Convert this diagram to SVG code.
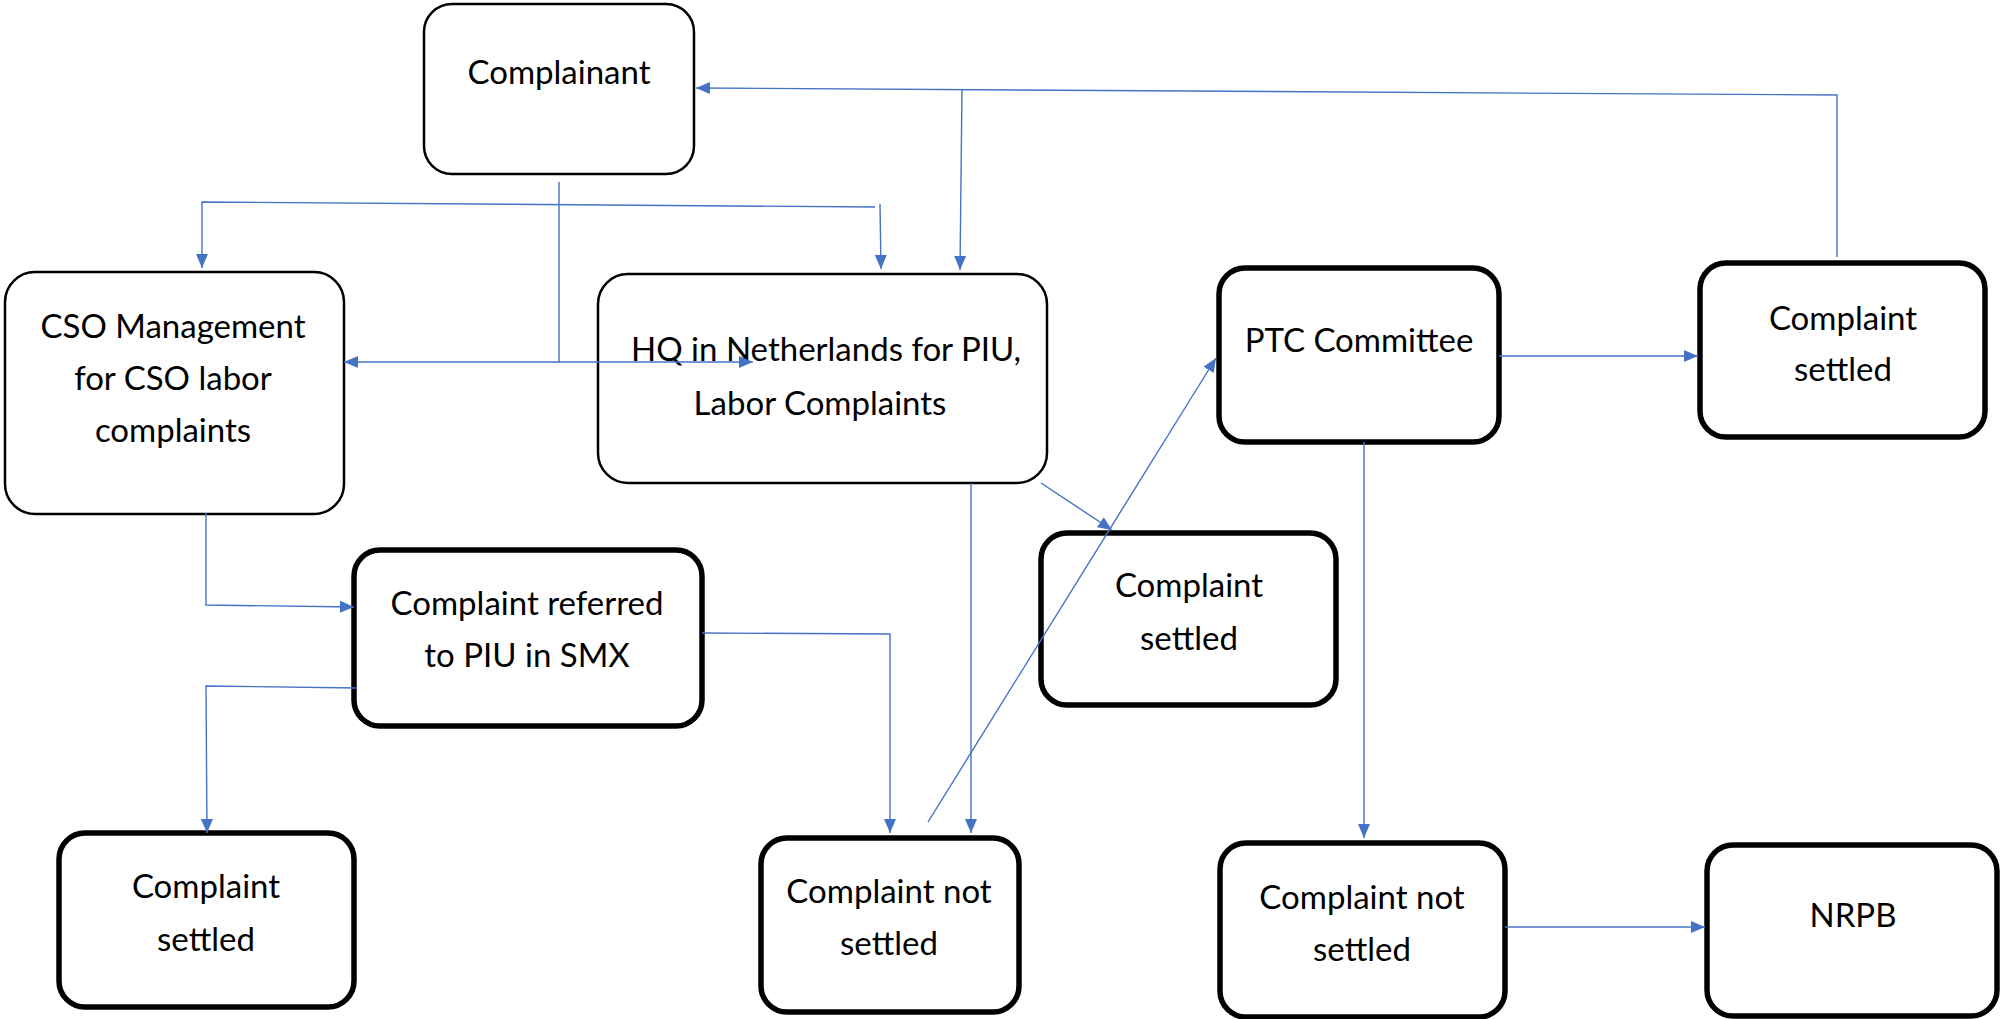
<svg xmlns="http://www.w3.org/2000/svg" width="2000" height="1019" viewBox="0 0 2000 1019">
<style>
.box{fill:#fff;stroke:#000}
.thin{stroke-width:2.5}
.thick{stroke-width:5.5}
.t{font-family:Lato,"Liberation Sans",sans-serif;font-size:33px;fill:#000;text-anchor:middle}
.c{fill:none;stroke:#4472C4;stroke-width:1.4}
</style>
<defs>
<marker id="a" markerUnits="userSpaceOnUse" markerWidth="16" markerHeight="14" refX="14" refY="6" orient="auto-start-reverse" viewBox="0 0 16 12">
<path d="M0,0 L14,6 L0,12 Z" fill="#4472C4"/>
</marker>
</defs>
<rect width="2000" height="1019" fill="#fff"/>
<g id="complainant">
<rect class="box thin" x="424" y="4" width="270" height="170" rx="28"/>
<text class="t" x="559" y="84">Complainant</text>
</g>
<g id="cso">
<rect class="box thin" x="5" y="272" width="339" height="242" rx="30"/>
<text class="t" x="173" y="338">CSO Management</text>
<text class="t" x="173" y="390">for CSO labor</text>
<text class="t" x="173" y="442">complaints</text>
</g>
<g id="hq">
<rect class="box thin" x="598" y="274" width="449" height="209" rx="30"/>
<text class="t" x="826" y="361">HQ in Netherlands for PIU,</text>
<text class="t" x="820" y="415">Labor Complaints</text>
</g>
<g id="ptc">
<rect class="box thick" x="1219" y="268" width="280" height="174" rx="26"/>
<text class="t" x="1359" y="352">PTC Committee</text>
</g>
<g id="settled-right">
<rect class="box thick" x="1700" y="263" width="285" height="174" rx="26"/>
<text class="t" x="1843" y="330">Complaint</text>
<text class="t" x="1843" y="381">settled</text>
</g>
<g id="referred">
<rect class="box thick" x="354" y="550" width="348" height="176" rx="26"/>
<text class="t" x="527" y="615">Complaint referred</text>
<text class="t" x="527" y="667">to PIU in SMX</text>
</g>
<g id="settled-middle">
<rect class="box thick" x="1041" y="533" width="295" height="172" rx="26"/>
<text class="t" x="1189" y="597">Complaint</text>
<text class="t" x="1189" y="650">settled</text>
</g>
<g id="settled-left">
<rect class="box thick" x="59" y="833" width="295" height="174" rx="26"/>
<text class="t" x="206" y="898">Complaint</text>
<text class="t" x="206" y="951">settled</text>
</g>
<g id="not-settled-middle">
<rect class="box thick" x="761" y="838" width="258" height="174" rx="26"/>
<text class="t" x="889" y="903">Complaint not</text>
<text class="t" x="889" y="955">settled</text>
</g>
<g id="not-settled-right">
<rect class="box thick" x="1220" y="843" width="285" height="174" rx="26"/>
<text class="t" x="1362" y="909">Complaint not</text>
<text class="t" x="1362" y="961">settled</text>
</g>
<g id="nrpb">
<rect class="box thick" x="1707" y="845" width="290" height="171" rx="26"/>
<text class="t" x="1853" y="927">NRPB</text>
</g>
<g id="connectors">
<path class="c" d="M1837,257 L1837,95 L696,88" marker-end="url(#a)"/>
<path class="c" d="M962,89 L960,270" marker-end="url(#a)"/>
<path class="c" d="M559,182 L559,362"/>
<path class="c" d="M344,362 L753,362" marker-start="url(#a)" marker-end="url(#a)"/>
<path class="c" d="M202,268 L202,202 L875,207" marker-start="url(#a)"/>
<path class="c" d="M880,204 L881,269" marker-end="url(#a)"/>
<path class="c" d="M206,513 L206,605 L354,607" marker-end="url(#a)"/>
<path class="c" d="M357,688 L206,686 L207,833" marker-end="url(#a)"/>
<path class="c" d="M702,633 L890,634 L890,833" marker-end="url(#a)"/>
<path class="c" d="M971,483 L971,833" marker-end="url(#a)"/>
<path class="c" d="M1041,483 L1112,530" marker-end="url(#a)"/>
<path class="c" d="M928,822 L1216,358" marker-end="url(#a)"/>
<path class="c" d="M1499,356 L1698,356" marker-end="url(#a)"/>
<path class="c" d="M1364,442 L1364,838" marker-end="url(#a)"/>
<path class="c" d="M1505,927 L1705,927" marker-end="url(#a)"/>
</g>
</svg>
